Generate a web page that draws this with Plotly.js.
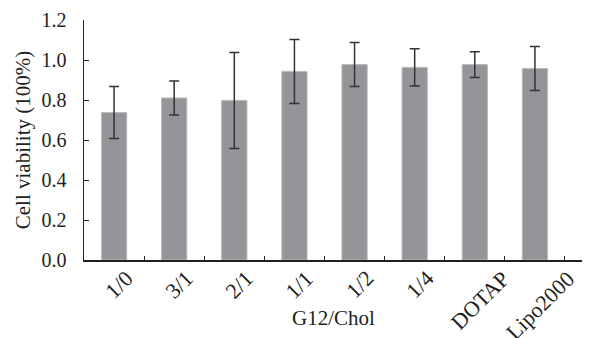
<!DOCTYPE html>
<html>
<head>
<meta charset="utf-8">
<script src="https://cdn.plot.ly/plotly-3.0.1.min.js"></script>
<style>html,body{margin:0;padding:0;background:#fff;}#chart{width:605px;height:338px;}</style>
</head>
<body>
<div id="chart"></div>
<script>
const categories = ["1/0", "3/1", "2/1", "1/1", "1/2", "1/4", "DOTAP", "Lipo2000"];
const viability = [0.737, 0.81, 0.798, 0.943, 0.977, 0.963, 0.977, 0.957];
const errors = [0.13, 0.085, 0.24, 0.16, 0.11, 0.093, 0.064, 0.11];
const yTickVals = [0, 0.2, 0.4, 0.6, 0.8, 1.0, 1.2];
const yTickText = ["0.0", "0.2", "0.4", "0.6", "0.8", "1.0", "1.2"];
const xTitle = "G12/Chol";
const yTitle = "Cell viability (100%)";

const font = "Liberation Serif, Times New Roman, serif";
const ink = "#231f20";

// Rotated category labels, centred under each bar like the original
const labelAnnotations = categories.map(c => ({
  text: c, x: c, xref: "x", y: 0, yref: "paper",
  xanchor: "center", yanchor: "top", yshift: -3, xshift: 5, textangle: -45,
  showarrow: false, font: {family: font, size: 22, color: ink}
}));

Plotly.newPlot("chart", [{
  type: "bar",
  x: categories,
  y: viability,
  width: 0.42,
  marker: {color: "#939598", line: {color: "#b8b9bb", width: 1}},
  error_y: {type: "data", array: errors, visible: true, color: "#333333", thickness: 1.5, width: 5}
}], {
  width: 605, height: 338,
  margin: {l: 84, r: 23, t: 20, b: 78},
  paper_bgcolor: "#ffffff", plot_bgcolor: "#ffffff",
  showlegend: false,
  font: {family: font, color: ink, size: 20},
  xaxis: {
    type: "category",
    showline: true, linecolor: ink, linewidth: 1.5,
    ticks: "inside", ticklen: 4, tickcolor: ink, tickson: "boundaries",
    showticklabels: false,
    showgrid: false, zeroline: false
  },
  yaxis: {
    range: [0, 1.2],
    tickvals: yTickVals, ticktext: yTickText,
    showline: true, linecolor: ink, linewidth: 1.5,
    ticks: "inside", ticklen: 5, tickcolor: ink,
    ticklabelstandoff: 12,
    tickfont: {family: font, size: 20, color: ink},
    showgrid: false, zeroline: false,
    title: {text: yTitle, font: {family: font, size: 21, color: ink}, standoff: 5}
  },
  annotations: labelAnnotations.concat([{
    text: xTitle, x: 0.5, xref: "paper", y: 0, yref: "paper",
    xanchor: "center", yanchor: "top", yshift: -44,
    showarrow: false, font: {family: font, size: 21, color: ink}
  }])
}, {displayModeBar: false, staticPlot: true});
</script>
</body>
</html>
